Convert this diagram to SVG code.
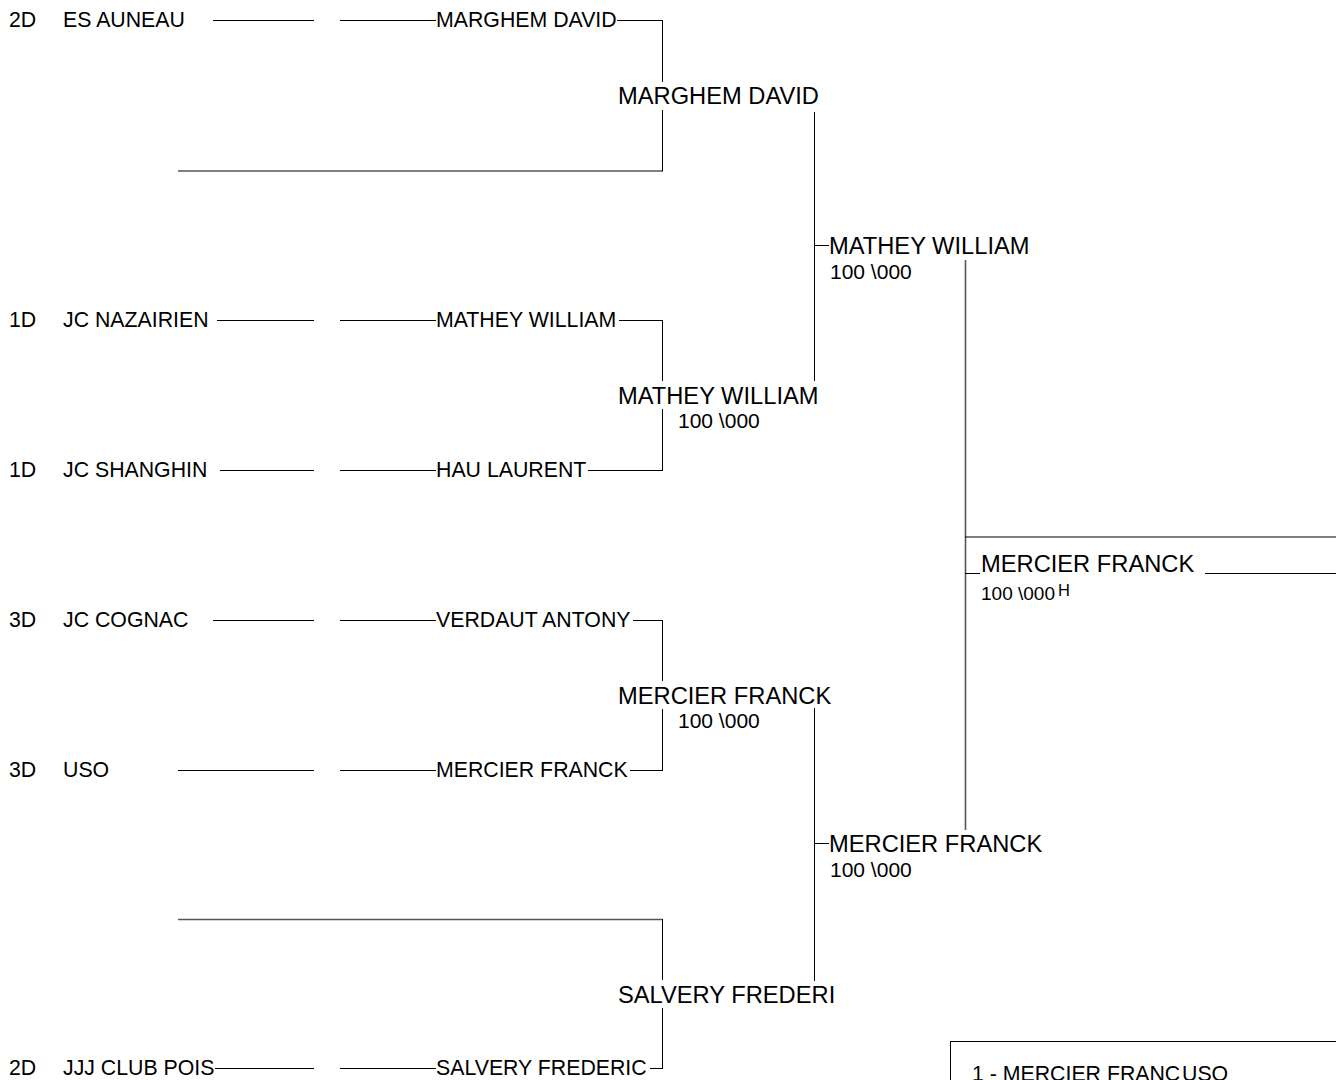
<svg xmlns="http://www.w3.org/2000/svg" width="1336" height="1080" viewBox="0 0 1336 1080">
<style>
text{font-family:"Liberation Sans",Arial,sans-serif;fill:#000}
.s{font-size:21.3px}
.n{font-size:21px}
.l{font-size:23.7px}
.f{font-size:19px}
.sup{font-size:16.5px}
.c line{stroke:#000;stroke-width:1}
.c line.g{stroke:#555;stroke-width:1.6}
</style>
<rect width="1336" height="1080" fill="#fff"/>
<g id="connectors" class="c">
<line x1="213" y1="20.5" x2="314" y2="20.5"/><line x1="340" y1="20.5" x2="436" y2="20.5"/><line x1="617" y1="20.5" x2="662.5" y2="20.5"/>
<line x1="178" y1="171" x2="662.5" y2="171"/>
<line x1="217" y1="320.5" x2="314" y2="320.5"/><line x1="340" y1="320.5" x2="436" y2="320.5"/><line x1="619" y1="320.5" x2="662.5" y2="320.5"/>
<line x1="220" y1="470.5" x2="314" y2="470.5"/><line x1="340" y1="470.5" x2="436" y2="470.5"/><line x1="588" y1="470.5" x2="662.5" y2="470.5"/>
<line x1="213" y1="620.5" x2="314" y2="620.5"/><line x1="340" y1="620.5" x2="436" y2="620.5"/><line x1="633" y1="620.5" x2="662.5" y2="620.5"/>
<line x1="178" y1="770.5" x2="314" y2="770.5"/><line x1="340" y1="770.5" x2="436" y2="770.5"/><line x1="630" y1="770.5" x2="662.5" y2="770.5"/>
<line class="g" x1="178" y1="919.5" x2="662.5" y2="919.5"/>
<line x1="215" y1="1068.5" x2="314" y2="1068.5"/><line x1="340" y1="1068.5" x2="436" y2="1068.5"/><line x1="650" y1="1068.5" x2="662.5" y2="1068.5"/>
<line x1="662.5" y1="20" x2="662.5" y2="82"/><line x1="662.5" y1="110" x2="662.5" y2="171.5"/>
<line x1="662.5" y1="320" x2="662.5" y2="381"/><line x1="662.5" y1="409" x2="662.5" y2="471"/>
<line x1="662.5" y1="620" x2="662.5" y2="681"/><line x1="662.5" y1="709" x2="662.5" y2="771"/>
<line x1="662.5" y1="919" x2="662.5" y2="980"/><line x1="662.5" y1="1008" x2="662.5" y2="1069"/>
<line x1="814.5" y1="112" x2="814.5" y2="381"/><line x1="814" y1="245.5" x2="829" y2="245.5"/>
<line x1="814.5" y1="708" x2="814.5" y2="981"/><line x1="814" y1="843.5" x2="829" y2="843.5"/>
<line class="g" x1="965.5" y1="260" x2="965.5" y2="830"/>
<line x1="965" y1="537" x2="1336" y2="537"/>
<line x1="965" y1="573.5" x2="980" y2="573.5"/>
<line x1="1205" y1="573.5" x2="1336" y2="573.5"/>
<line x1="950" y1="1041.5" x2="1336" y2="1041.5"/>
<line x1="950.5" y1="1041" x2="950.5" y2="1080"/>
</g>
<g id="entry-1"><text class="s" x="9" y="27">2D</text><text class="s" x="63" y="27">ES AUNEAU</text></g>
<g id="entry-2"><text class="s" x="9" y="327">1D</text><text class="s" x="63" y="327">JC NAZAIRIEN</text></g>
<g id="entry-3"><text class="s" x="9" y="477">1D</text><text class="s" x="63" y="477">JC SHANGHIN</text></g>
<g id="entry-4"><text class="s" x="9" y="627">3D</text><text class="s" x="63" y="627">JC COGNAC</text></g>
<g id="entry-5"><text class="s" x="9" y="777">3D</text><text class="s" x="63" y="777">USO</text></g>
<g id="entry-6"><text class="s" x="9" y="1075">2D</text><text class="s" x="63" y="1075">JJJ CLUB POIS</text></g>
<g id="r1-1"><text class="s" x="436" y="27">MARGHEM DAVID</text></g>
<g id="r1-2"><text class="s" x="436" y="327">MATHEY WILLIAM</text></g>
<g id="r1-3"><text class="s" x="436" y="477">HAU LAURENT</text></g>
<g id="r1-4"><text class="s" x="436" y="627">VERDAUT ANTONY</text></g>
<g id="r1-5"><text class="s" x="436" y="777">MERCIER FRANCK</text></g>
<g id="r1-6"><text class="s" x="436" y="1075">SALVERY FREDERIC</text></g>
<g id="r2-1"><text class="l" x="618" y="104">MARGHEM DAVID</text></g>
<g id="r2-2"><text class="l" x="618" y="403.5">MATHEY WILLIAM</text><text class="n" x="678" y="428">100 \000</text></g>
<g id="r2-3"><text class="l" x="618" y="703.5">MERCIER FRANCK</text><text class="n" x="678" y="728">100 \000</text></g>
<g id="r2-4"><text class="l" x="618" y="1002.5">SALVERY FREDERI</text></g>
<g id="r3-1"><text class="l" x="829" y="254">MATHEY WILLIAM</text><text class="n" x="830" y="279">100 \000</text></g>
<g id="r3-2"><text class="l" x="829" y="852">MERCIER FRANCK</text><text class="n" x="830" y="877">100 \000</text></g>
<g id="final"><text class="l" x="981" y="572">MERCIER FRANCK</text><text class="f" x="981" y="600">100 \000</text><text class="sup" x="1058" y="596">H</text></g>
<g id="results"><text class="s" x="972" y="1081">1 - MERCIER FRANC</text><text class="s" x="1182" y="1081">USO</text></g>
</svg>
